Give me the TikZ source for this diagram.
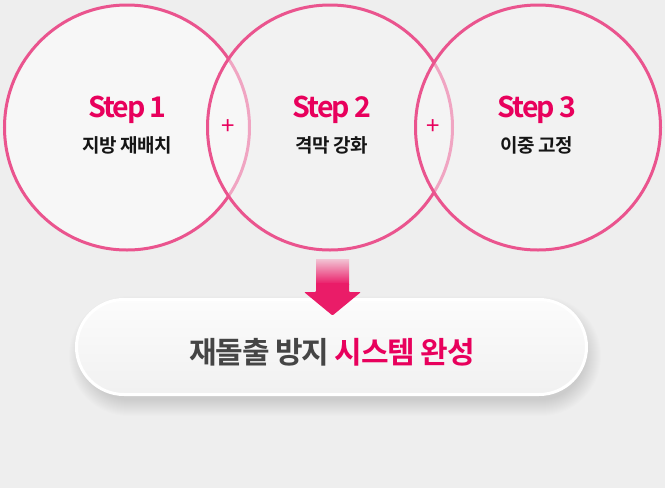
\documentclass[tikz,border=0pt]{standalone}
\usepackage{fontspec}
\newfontfamily\krr{Noto Sans CJK KR}
\newfontfamily\krbt{Noto Sans CJK KR Bold}[LetterSpace=-7]
\newfontfamily\krbs{Noto Sans CJK KR Bold}[LetterSpace=-3]
\newfontfamily\krbm{Noto Sans CJK KR Bold}[LetterSpace=-4]
\definecolor{bg}{HTML}{EEEEEE}
\definecolor{cfill}{HTML}{F7F7F7}
\definecolor{ring}{HTML}{EA548E}
\definecolor{hot}{HTML}{E8005C}
\definecolor{arrowpink}{HTML}{EA1C68}
\definecolor{arrowtop}{HTML}{F2C4D4}
\definecolor{dark}{HTML}{454545}
\definecolor{ink}{HTML}{151515}
\tikzset{
  ringnode/.style={circle, minimum size=245pt, inner sep=0pt, draw=ring, line width=3pt, fill=cfill},
  overring/.style={ringnode, fill opacity=0.5, draw opacity=1, text opacity=1},
  steptitle/.style={text=hot, font=\krbt\fontsize{28.5}{31}\selectfont, inner sep=0pt},
  stepsub/.style={text=ink, font=\krbs\fontsize{19}{21}\selectfont, inner sep=0pt},
  plussign/.style={text=hot, font=\krr\fontsize{24}{26}\selectfont, inner sep=0pt},
  shadowlayer/.style={black, fill opacity=0.006},
}
\begin{document}
\begin{tikzpicture}[x=1pt,y=-1pt]
\useasboundingbox (0,0) rectangle (665,488);
\fill[bg] (0,0) rectangle (665,488);
% circles
\node[ringnode] (c1) at (127,127.5) {};
\node[overring] (c2) at (330,127.5) {};
\node[overring] (c3) at (538,127.5) {};
% texts
\node[steptitle] (t1) at (127.5,110) {Step 1};
\node[stepsub] (s1) at (127.5,145) {지방 재배치};
\node[steptitle] (t2) at (332,110) {Step 2};
\node[stepsub] (s2) at (332,145) {격막 강화};
\node[steptitle] (t3) at (537,110) {Step 3};
\node[stepsub] (s3) at (537,145) {이중 고정};
\node[plussign] (p1) at (228,127) {+};
\node[plussign] (p2) at (433,127) {+};
% soft shadow of the pill
\foreach \e [evaluate=\e as \r using 44+\e] in {0,1,...,16}{
  \fill[shadowlayer, rounded corners=\r pt] (85-\e,312-\e) rectangle (585+\e,400+\e);
}
% pill
\node[draw=white, line width=3pt, rounded corners=47.5pt, minimum width=510pt, minimum height=95pt,
      top color=white!60!cfill, bottom color=bg!70!cfill, inner sep=0pt]
      (pill) at (331.5,347) {};
\node[font=\krbm\fontsize{30}{32}\selectfont, inner sep=0pt] (res) at (332,352)
  {\textcolor{dark}{재돌출 방지} \textcolor{hot}{시스템 완성}};
% arrow
\coordinate (ar) at (332,259);
\shade[top color=arrowtop, bottom color=arrowpink] (316,259) rectangle (349,284);
\fill[arrowpink, rounded corners=1pt] (316,283) -- (349,283) -- (349,292) -- (361,292) -- (332.5,315.5) -- (304,292) -- (316,292) -- cycle;
\end{tikzpicture}
\end{document}
